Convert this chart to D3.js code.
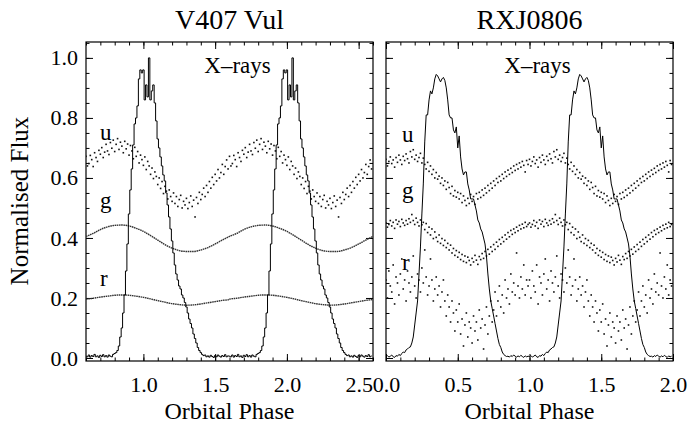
<!DOCTYPE html>
<html><head><meta charset="utf-8">
<script src="https://cdn.jsdelivr.net/npm/d3@7"></script>
<style>
body{margin:0;background:#fff;}
svg{display:block;font-family:"Liberation Serif","Times New Roman",serif;}
</style></head>
<body><svg id="c" width="690" height="424"></svg>
<script>
// ---------- DATA (phase-folded light curves, one cycle each, plotted twice) ----------
const panelTitles = ["V407 Vul", "RXJ0806"];
const bandLabels = ["u", "g", "r"];
const cycleOffsets = [0, 1];
const yTickValues = [0.0, 0.2, 0.4, 0.6, 0.8, 1.0];
const xTickLeft = [1.0, 1.5, 2.0, 2.5];
const xTickRight = [0.0, 0.5, 1.0, 1.5, 2.0];

// V407 Vul, X-rays: phases 0.60 .. 1.59, step 0.01
const leftPhaseStart = 0.60, leftStep = 0.01;
const xrayLeft = [
0.006,0.004,0.010,0.003,0.008,0.005,0.012,0.004,0.007,0.002,
0.009,0.005,0.011,0.004,0.008,0.003,0.010,0.006,0.004,0.012,
0.015,0.018,0.025,0.040,0.070,0.100,0.150,0.210,0.290,0.380,
0.480,0.560,0.630,0.710,0.780,0.800,0.840,0.930,0.960,0.950,
0.960,0.860,0.910,0.870,1.000,0.860,0.890,0.910,0.850,0.790,
0.730,0.700,0.670,0.640,0.610,0.590,0.550,0.510,0.470,0.430,
0.390,0.350,0.310,0.280,0.260,0.240,0.230,0.210,0.200,0.185,
0.170,0.150,0.130,0.115,0.100,0.080,0.065,0.050,0.035,0.025,
0.018,0.012,0.008,0.010,0.004,0.007,0.003,0.009,0.005,0.002,
0.008,0.004,0.010,0.006,0.003,0.008,0.005,0.011,0.004,0.007];
// V407 Vul, u band: phases 0.60 .. 1.59, step 0.01
const uLeft = [
0.672,0.640,0.648,0.675,0.661,0.638,0.684,0.668,0.655,0.692,
0.679,0.701,0.668,0.686,0.712,0.690,0.678,0.718,0.699,0.726,
0.688,0.712,0.731,0.695,0.719,0.706,0.684,0.722,0.697,0.713,
0.676,0.708,0.690,0.664,0.702,0.672,0.688,0.650,0.676,0.661,
0.642,0.670,0.628,0.655,0.640,0.612,0.633,0.598,0.620,0.605,
0.578,0.600,0.565,0.588,0.548,0.572,0.556,0.530,0.560,0.538,
0.522,0.550,0.515,0.538,0.505,0.528,0.542,0.500,0.522,0.510,
0.532,0.498,0.518,0.540,0.505,0.526,0.470,0.535,0.515,0.552,
0.528,0.545,0.566,0.538,0.575,0.552,0.588,0.566,0.602,0.578,
0.612,0.590,0.628,0.600,0.618,0.645,0.612,0.638,0.660,0.630];
// V407 Vul, g and r bands: phases 0.60 .. 1.60, step 0.05
const smoothStep = 0.05;
const gLeft = [0.405,0.415,0.428,0.437,0.442,0.443,0.440,0.432,0.422,0.408,
0.393,0.378,0.366,0.358,0.355,0.355,0.360,0.368,0.380,0.393,0.405];
const rLeft = [0.196,0.199,0.203,0.206,0.209,0.210,0.209,0.206,0.202,0.197,
0.191,0.186,0.181,0.178,0.176,0.177,0.180,0.184,0.188,0.192,0.195];

// RXJ0806: phases 0.00 .. 0.99, step 0.01
const rightPhaseStart = 0.00, rightStep = 0.01;
const xrayRight = [
0.005,0.008,0.003,0.006,0.010,0.004,0.002,0.008,0.006,0.012,
0.008,0.015,0.020,0.018,0.027,0.030,0.035,0.037,0.050,0.070,
0.110,0.150,0.190,0.280,0.370,0.480,0.580,0.720,0.810,0.810,
0.860,0.890,0.880,0.900,0.930,0.945,0.940,0.930,0.920,0.930,
0.935,0.925,0.900,0.860,0.810,0.800,0.800,0.760,0.750,0.770,
0.700,0.740,0.670,0.630,0.610,0.620,0.620,0.580,0.560,0.530,
0.530,0.530,0.510,0.490,0.460,0.450,0.430,0.420,0.400,0.380,
0.340,0.280,0.230,0.190,0.165,0.140,0.115,0.090,0.065,0.045,
0.035,0.020,0.012,0.008,0.005,0.006,0.003,0.008,0.005,0.010,
0.006,0.003,0.007,0.004,0.009,0.005,0.002,0.007,0.004,0.006];
const uRight = [
0.662,0.640,0.655,0.670,0.648,0.660,0.636,0.668,0.652,0.676,
0.660,0.645,0.672,0.658,0.680,0.664,0.650,0.688,0.670,0.694,
0.662,0.676,0.655,0.668,0.682,0.650,0.666,0.645,0.630,0.652,
0.622,0.640,0.612,0.628,0.600,0.618,0.596,0.606,0.582,0.600,
0.575,0.590,0.562,0.585,0.568,0.548,0.572,0.540,0.558,0.536,
0.552,0.530,0.548,0.518,0.540,0.525,0.508,0.532,0.515,0.545,
0.522,0.538,0.512,0.548,0.530,0.552,0.535,0.560,0.542,0.566,
0.550,0.575,0.558,0.582,0.566,0.590,0.575,0.598,0.585,0.605,
0.590,0.612,0.598,0.620,0.605,0.626,0.612,0.632,0.618,0.640,
0.625,0.645,0.630,0.650,0.636,0.655,0.642,0.620,0.658,0.645];
const gRight = [
0.450,0.436,0.445,0.458,0.440,0.452,0.432,0.460,0.446,0.455,
0.438,0.462,0.450,0.442,0.458,0.446,0.464,0.452,0.478,0.458,
0.445,0.466,0.452,0.440,0.460,0.444,0.452,0.428,0.448,0.418,
0.436,0.410,0.430,0.398,0.420,0.402,0.388,0.410,0.382,0.398,
0.375,0.392,0.368,0.382,0.360,0.376,0.350,0.365,0.342,0.358,
0.336,0.352,0.328,0.345,0.322,0.340,0.318,0.336,0.325,0.310,
0.332,0.320,0.342,0.326,0.312,0.338,0.328,0.348,0.332,0.355,
0.340,0.362,0.346,0.370,0.355,0.378,0.362,0.386,0.372,0.395,
0.380,0.402,0.388,0.410,0.396,0.418,0.404,0.425,0.412,0.430,
0.418,0.436,0.424,0.442,0.430,0.446,0.434,0.452,0.438,0.445];
const rRight = [
0.26,0.20,0.29,0.24,0.22,0.31,0.18,0.27,0.25,0.21,
0.28,0.33,0.23,0.26,0.19,0.29,0.25,0.22,0.27,0.34,
0.24,0.20,0.28,0.26,0.22,0.30,0.25,0.36,0.27,0.21,
0.24,0.33,0.26,0.19,0.23,0.27,0.21,0.24,0.17,0.22,
0.26,0.19,0.14,0.21,0.17,0.12,0.19,0.15,0.09,0.16,
0.12,0.18,0.08,0.13,0.04,0.11,0.15,0.07,0.12,0.10,
0.05,0.14,0.09,0.12,0.06,0.16,0.10,0.13,0.03,0.11,
0.17,0.08,0.14,0.19,0.12,0.16,0.22,0.14,0.19,0.24,
0.17,0.21,0.15,0.26,0.20,0.23,0.18,0.28,0.22,0.25,
0.21,0.35,0.24,0.20,0.27,0.23,0.31,0.21,0.26,0.24];

// ---------- LAYOUT ----------
const svg = d3.select("#c");
const yTop = 42, yBot = 361;
const y = d3.scaleLinear().domain([-0.01, 1.053]).range([yBot, yTop]);
const xL = d3.scaleLinear().domain([0.6, 2.6]).range([86, 373]);
const xR = d3.scaleLinear().domain([0.0, 2.0]).range([386, 673]);

function toPoints(vals, start, step){
  const pts = [];
  cycleOffsets.forEach(o => vals.forEach((v,i) => pts.push([start + i*step + o, v])));
  return pts;
}

function panel(x, idx, majorX, minorStep, showY){
  const g = svg.append("g");
  const [x0,x1] = x.range();
  const clipId = "clip"+idx;
  svg.append("clipPath").attr("id", clipId).append("rect")
     .attr("x", x0).attr("y", yTop).attr("width", x1-x0).attr("height", yBot-yTop);
  const d = x.domain();
  const minorX = d3.range(Math.round(d[0]/minorStep), Math.round(d[1]/minorStep)+1).map(k=>+(k*minorStep).toFixed(2));
  const minorY = d3.range(0, 22).map(k=>+(k*0.05).toFixed(2)).filter(v=>v<=1.05);

  g.append("g").attr("transform",`translate(0,${yBot})`)
     .call(d3.axisBottom(x).tickValues(minorX).tickSize(-3.5).tickFormat(""));
  g.append("g").attr("transform",`translate(0,${yBot})`)
     .call(d3.axisBottom(x).tickValues(majorX).tickSize(-7).tickPadding(15).tickFormat(d3.format(".1f")));
  g.append("g").attr("transform",`translate(0,${yTop})`)
     .call(d3.axisTop(x).tickValues(minorX).tickSize(-3.5).tickFormat(""));
  g.append("g").attr("transform",`translate(0,${yTop})`)
     .call(d3.axisTop(x).tickValues(majorX).tickSize(-7).tickFormat(""));
  g.append("g").attr("transform",`translate(${x0},0)`)
     .call(d3.axisLeft(y).tickValues(minorY).tickSize(-3.5).tickFormat(""));
  g.append("g").attr("transform",`translate(${x0},0)`)
     .call(d3.axisLeft(y).tickValues(yTickValues).tickSize(-7).tickPadding(8)
       .tickFormat(showY ? d3.format(".1f") : ""));
  g.append("g").attr("transform",`translate(${x1},0)`)
     .call(d3.axisRight(y).tickValues(minorY).tickSize(-3.5).tickFormat(""));
  g.append("g").attr("transform",`translate(${x1},0)`)
     .call(d3.axisRight(y).tickValues(yTickValues).tickSize(-7).tickFormat(""));
  g.selectAll(".domain").remove();
  g.selectAll(".tick line").attr("stroke","#000").attr("stroke-width",1);
  g.selectAll(".tick text").attr("font-family",'"Liberation Serif",serif').attr("font-size",22).attr("fill","#000");

  g.append("rect").attr("x",x0).attr("y",yTop).attr("width",x1-x0).attr("height",yBot-yTop)
   .attr("fill","none").attr("stroke","#000").attr("stroke-width",1.2);

  svg.append("text").attr("x",(x0+x1)/2).attr("y",29).attr("text-anchor","middle")
     .attr("font-size",28).text(panelTitles[idx]);
  svg.append("text").attr("x",(x0+x1)/2).attr("y",419).attr("text-anchor","middle")
     .attr("font-size",24).text("Orbital Phase");
  svg.append("text").attr("x",(x0+x1)/2+8).attr("y",73).attr("text-anchor","middle")
     .attr("font-size",23).text("X\u2013rays");
  return g.append("g").attr("clip-path",`url(#${clipId})`);
}

function dots(layer, x, pts){
  layer.append("g").selectAll("rect").data(pts).join("rect")
    .attr("x", d=>x(d[0])-0.8).attr("y", d=>y(d[1])-0.8)
    .attr("width",1.6).attr("height",1.6).attr("fill","#111");
}

// Left panel
const L = panel(xL, 0, xTickLeft, 0.1, true);
const lineL = d3.line().x(d=>xL(d[0])).y(d=>y(d[1])).curve(d3.curveMonotoneX);
[gLeft, rLeft].forEach(s =>
  L.append("path").datum(toPoints(s, leftPhaseStart, smoothStep))
   .attr("d", lineL).attr("fill","none").attr("stroke","#333")
   .attr("stroke-width",1.4).attr("stroke-dasharray","1.6,0.6"));
dots(L, xL, toPoints(uLeft, leftPhaseStart, leftStep));
L.append("path").datum(toPoints(xrayLeft, leftPhaseStart, leftStep))
  .attr("d", d3.line().x(d=>xL(d[0])).y(d=>y(d[1])).curve(d3.curveStep))
  .attr("fill","none").attr("stroke","#000").attr("stroke-width",1);

// Right panel
const R = panel(xR, 1, xTickRight, 0.1, false);
[uRight, gRight, rRight].forEach(s => dots(R, xR, toPoints(s, rightPhaseStart, rightStep)));
R.append("path").datum(toPoints(xrayRight, rightPhaseStart, rightStep))
  .attr("d", d3.line().x(d=>xR(d[0])).y(d=>y(d[1])))
  .attr("fill","none").attr("stroke","#000").attr("stroke-width",1);

// band labels
const bandPos = [
  {x:100, ys:[140,208,286]},
  {x:402, ys:[142,198,270]}
];
bandPos.forEach(p => bandLabels.forEach((b,i) =>
  svg.append("text").attr("x",p.x).attr("y",p.ys[i]).attr("font-size",23).text(b)));

svg.append("text").attr("transform","translate(28,201) rotate(-90)").attr("text-anchor","middle")
   .attr("font-size",25).text("Normalised Flux");
</script></body></html>
